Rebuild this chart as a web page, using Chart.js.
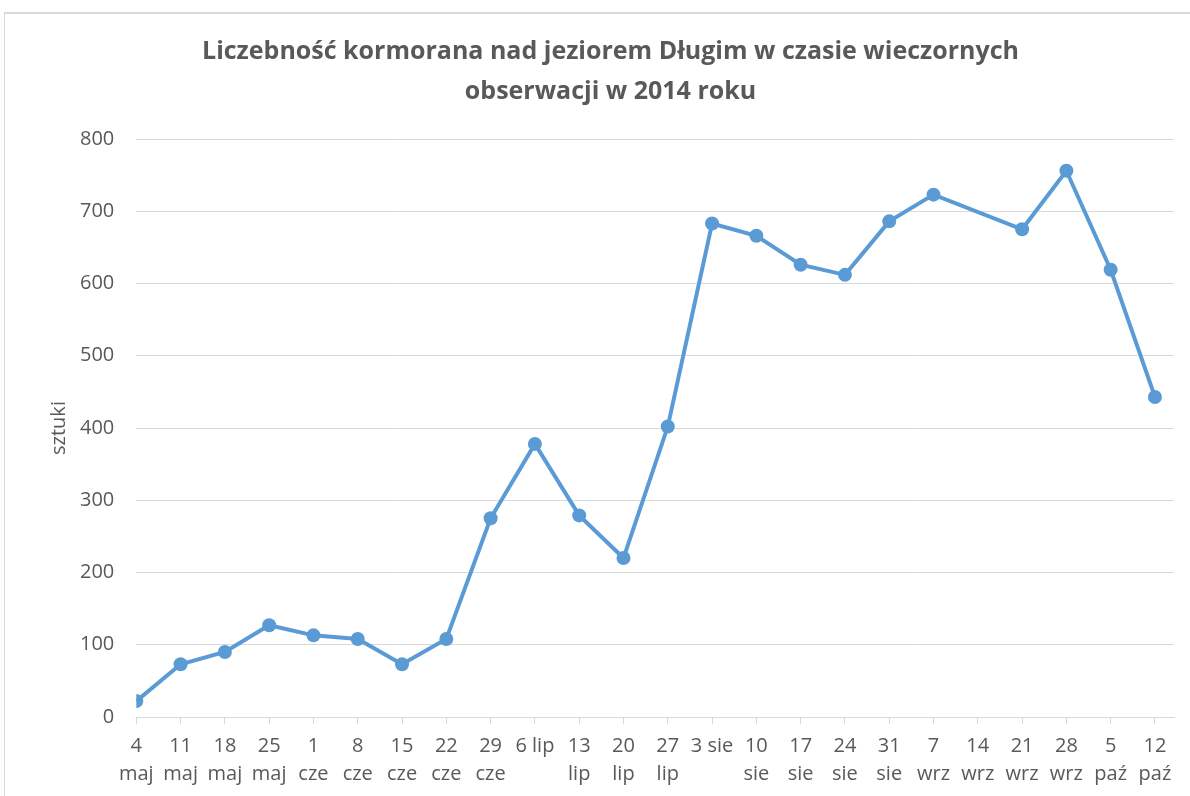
<!DOCTYPE html>
<html>
<head>
<meta charset="utf-8">
<script src="https://cdn.jsdelivr.net/npm/chart.js@4"></script>
<style>
  html, body { margin: 0; padding: 0; background: #fff; overflow: hidden; }
  #frame { position: absolute; left: 4px; top: 12px; width: 1300px; height: 900px;
           border-left: 1px solid #d9d9d9; border-top: 2px solid #d9d9d9; }
  #wrap { position: absolute; left: 5px; top: 14px; width: 1204px; height: 782px; }
</style>
</head>
<body>
<div id="frame"></div>
<div id="wrap"><canvas id="chart"></canvas></div>
<script>
// daty obserwacji (etykiety osi X)
const dates = [
    ['4', 'maj'], ['11', 'maj'], ['18', 'maj'], ['25', 'maj'],
    ['1', 'cze'], ['8', 'cze'], ['15', 'cze'], ['22', 'cze'], ['29', 'cze'],
    ['6 lip'], ['13', 'lip'], ['20', 'lip'], ['27', 'lip'],
    ['3 sie'], ['10', 'sie'], ['17', 'sie'], ['24', 'sie'], ['31', 'sie'],
    ['7', 'wrz'], ['14', 'wrz'], ['21', 'wrz'], ['28', 'wrz'],
    ['5', 'paź'], ['12', 'paź']
];

// liczba kormoranów (14 wrz - brak obserwacji)
const counts = [
    22, 73, 90, 127, 113, 108, 73, 108, 275,
    378, 279, 220, 402,
    683, 666, 626, 612, 686,
    723, null, 675, 756,
    619, 443
];

const yTicks = [0, 100, 200, 300, 400, 500, 600, 700, 800];

const grey = '#595959';
const gridColor = '#d9d9d9';
const blue = '#5b9bd5';
const font = 'Open Sans';

const ctx = document.getElementById('chart');

new Chart(ctx, {
    type: 'line',
    data: {
        datasets: [{
            label: 'sztuki',
            data: counts.map((v, i) => ({ x: i, y: v })),
            borderColor: blue,
            backgroundColor: blue,
            borderWidth: 4,
            pointRadius: 7,
            pointBorderWidth: 0,
            pointBackgroundColor: blue,
            spanGaps: true,
            tension: 0
        }]
    },
    options: {
        responsive: true,
        maintainAspectRatio: false,
        animation: false,
        layout: { padding: { left: 42, right: 35, top: 0, bottom: 0 } },
        plugins: {
            legend: { display: false },
            tooltip: { enabled: false },
            title: {
                display: true,
                text: ['Liczebność kormorana nad jeziorem Długim w czasie wieczornych',
                       'obserwacji w 2014 roku'],
                color: grey,
                font: { family: font, size: 25, weight: 'bold', lineHeight: 1.6 },
                padding: { top: 18, bottom: 27 }
            }
        },
        scales: {
            x: {
                type: 'linear',
                min: 0,
                max: 23.43,
                afterBuildTicks: s => { s.ticks = dates.map((_, i) => ({ value: i })); },
                ticks: {
                    autoSkip: false,
                    maxRotation: 0,
                    color: grey,
                    padding: 8,
                    font: { family: font, size: 20, lineHeight: 1.4 },
                    callback: v => dates[v] || ''
                },
                grid: {
                    drawOnChartArea: false,
                    drawTicks: true,
                    tickLength: 7,
                    color: gridColor
                },
                border: { display: true, color: gridColor, width: 1 }
            },
            y: {
                min: 0,
                max: 800,
                afterBuildTicks: s => { s.ticks = yTicks.map(v => ({ value: v })); },
                ticks: {
                    color: grey,
                    padding: 22,
                    font: { family: font, size: 20 }
                },
                grid: { color: gridColor, drawTicks: false },
                border: { display: false },
                title: {
                    display: true,
                    text: 'sztuki',
                    color: grey,
                    font: { family: font, size: 20 },
                    padding: { top: 0, bottom: -13 }
                }
            }
        }
    }
});
</script>
</body>
</html>
